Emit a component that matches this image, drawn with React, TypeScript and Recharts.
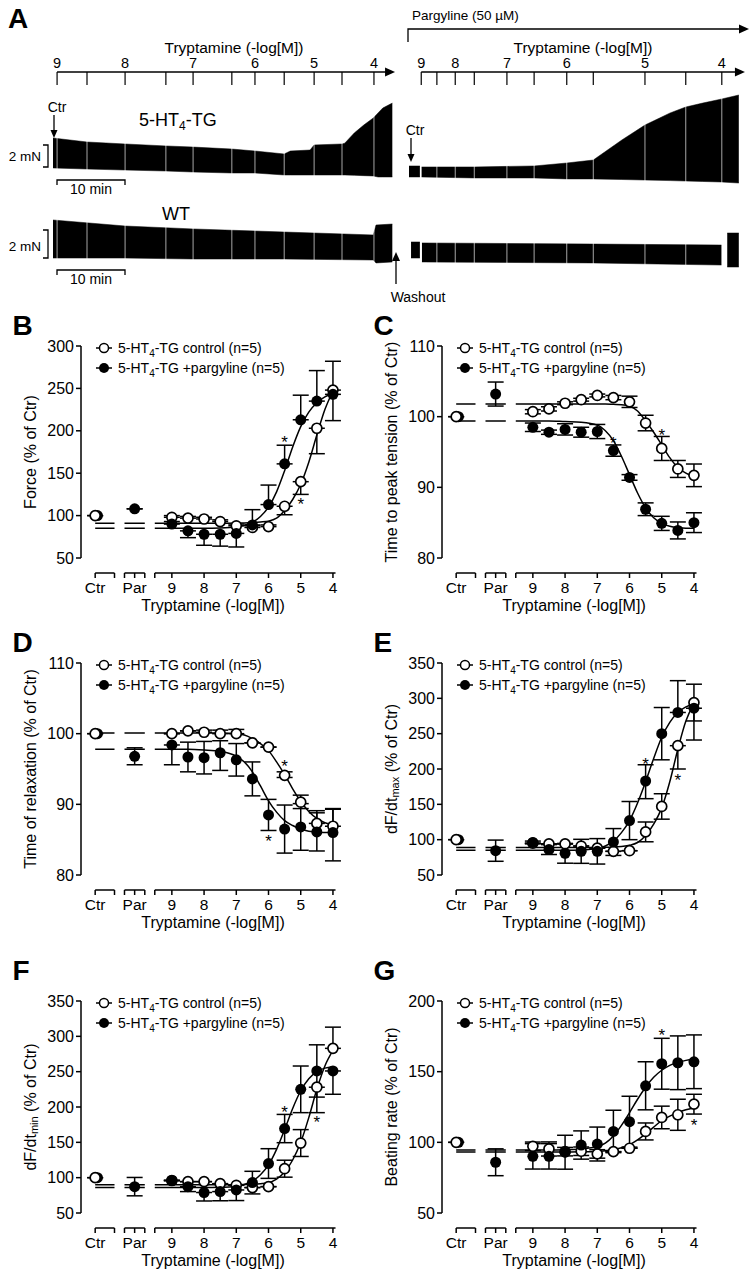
import React from 'react';
import { ComposedChart, Area, Line, Scatter, XAxis, YAxis, ErrorBar, ReferenceLine } from 'recharts';

const FONT = '"Liberation Sans", Arial, Helvetica, sans-serif';

// ---------- Panel A: original force recordings ----------
// -log[M] of each cumulative tryptamine addition
const addConc = [9, 8.5, 8, 7.5, 7, 6.5, 6, 5.5, 5, 4.5, 4];
// minute of each addition, control run and pargyline run
const addTimeCtl = [0.6, 5, 10.6, 16.6, 20.6, 26.3, 29.7, 34, 38.4, 42.5, 47.2];
const addTimePar = [1.8, 4.1, 6.8, 9.6, 14.4, 18.4, 23.2, 27.1, 34.7, 40.7, 46.0];

// trace envelopes (min, mN above plot floor)
const tgCtlT = [0, 5, 10.6, 16.6, 20.6, 26.3, 29.7, 34, 34.9, 37.8, 38.4, 42.5, 42.9, 44.3, 45.7, 47.1, 47.8, 48.5, 49.9];
const tgCtlHi = [4.27, 3.91, 3.73, 3.55, 3.45, 3.27, 3.09, 2.82, 3.09, 3.18, 3.64, 3.73, 3.8, 4.73, 5.45, 6.09, 6.55, 7.0, 7.45];
const tgCtlLo = [1.55, 1.45, 1.36, 1.27, 1.18, 1.09, 1.09, 0.91, 0.91, 0.91, 0.91, 0.91, 0.91, 0.88, 0.85, 0.82, 0.73, 0.73, 0.73];

const tgParT = [0, 1.6, 1.7, 1.8, 9.6, 18.4, 23.2, 27.1, 31.3, 34.7, 38.4, 40.7, 43.2, 46.0, 48.5];
const tgParHi = [1.73, 1.73, null, 1.64, 1.64, 1.73, 2.0, 2.27, 4.09, 5.45, 6.55, 7.09, 7.45, 7.82, 8.18];
const tgParLo = [0.73, 0.73, null, 0.73, 0.64, 0.64, 0.55, 0.55, 0.5, 0.45, 0.4, 0.36, 0.32, 0.27, 0.18];

const wtCtlT = [0, 10.6, 20.6, 34, 47.1, 47.5, 49.9];
const wtCtlHi = [3.93, 3.5, 3.29, 3.07, 2.86, 3.57, 3.64];
const wtCtlLo = [1.21, 1.21, 1.14, 1.14, 1.07, 0.86, 0.93];

const wtParT = [0.3, 1.6, 1.7, 1.9, 27.1, 46.0, 46.4, 46.8, 48.5];
const wtParHi = [2.36, 2.36, null, 2.29, 2.21, 2.14, null, 3.0, 3.0];
const wtParLo = [1.21, 1.21, null, 0.93, 0.86, 0.71, null, 0.57, 0.57];

// ---------- Panels B-G: concentration-response ----------
const conc = [9, 8.5, 8, 7.5, 7, 6.5, 6, 5.5, 5, 4.5, 4];
const CTR_X = 11.38;
const PAR_X = 10.155;
const doseTicks = [CTR_X, 10.78, 10.47, PAR_X, 9.84, 9.53, 9, 8, 7, 6, 5, 4];
const doseTickText = ['Ctr', '', '', 'Par', '', '', '9', '8', '7', '6', '5', '4'];
const fitX = [9.53, 9, 8.5, 8, 7.5, 7, 6.75, 6.5, 6.25, 6, 5.75, 5.5, 5.25, 5, 4.75, 4.5, 4.25, 4];

// pargyline-alone value (B..G) and its SEM
const parMean = [108, 103.2, 96.8, 84.4, 87.3, 85.9];
const parErr = [0, 1.7, 1.2, 15, 13, 9.5];

// B: force
const bCtlMean = [98, 97, 96, 93, 88, 86, 87, 111, 140, 203, 248];
const bCtlDown = [0, 0, 0, 0, 0, 0, 0, 10, 15, 30, 0];
const bCtlUp = [2, 2, 2, 2, 2, 2, 2, 0, 0, 0, 34];
const bPargMean = [90, 82, 78, 78, 79, 89, 113, 161, 213, 235, 243];
const bPargDown = [0, 8, 13, 14, 16, 0, 0, 0, 0, 0, 31];
const bPargUp = [3, 0, 0, 0, 0, 18, 23, 22, 29, 36, 0];
const bCtlFit = [91, 91, 91, 91, 91, 91.2, 91.4, 91.8, 92.5, 93.5, 97, 106, 119, 137, 163, 195, 225, 247];
const bPargFit = [85, 85, 85, 85, 85.3, 86.5, 88.5, 92, 99, 110, 128, 153, 181, 205, 222, 233, 240, 244];
const bStarX = [5.5, 5];
const bStarY = [191, 118];

// C: time to peak tension
const cCtlMean = [100.7, 101.1, 101.9, 102.4, 103.0, 102.7, 102.1, 99.1, 95.5, 92.6, 91.7];
const cCtlErr = [0.3, 0.3, 0.2, 0.2, 0.2, 0.3, 0.8, 1.1, 1.7, 1.2, 1.6];
const cPargMean = [98.5, 97.8, 98.2, 97.8, 97.9, 95.2, 91.4, 86.9, 84.9, 83.9, 85.0];
const cPargErr = [0.6, 0.3, 0.8, 0.7, 1.0, 0.8, 0.4, 0.9, 1.0, 1.2, 1.4];
const cCtlFit = [101.8, 101.8, 101.8, 101.8, 101.8, 101.8, 101.8, 101.75, 101.7, 101.5, 100.8, 99.4, 97.8, 96.0, 94.2, 92.8, 92.0, 91.5];
const cPargFit = [99.4, 99.4, 99.4, 99.3, 99.2, 98.8, 98.0, 96.6, 94.4, 91.8, 89.2, 87.1, 85.7, 84.9, 84.5, 84.3, 84.2, 84.2];
const cStarX = [6.5, 5];
const cStarY = [96.9, 98.0];

// D: time of relaxation
const dCtlMean = [100.0, 100.4, 100.2, 100.0, 100.0, 98.7, 98.1, 94.1, 90.3, 87.3, 86.9];
const dCtlDown = [0, 0, 0, 0, 0, 0, 0, 0.3, 0.9, 0, 0];
const dCtlUp = [0, 0, 0.3, 0.5, 0.6, 0, 0, 0.5, 1.0, 1.8, 2.4];
const dPargMean = [98.4, 96.7, 96.6, 97.3, 96.3, 93.6, 88.5, 86.5, 86.8, 86.1, 86.0];
const dPargDown = [2.8, 2.1, 2.3, 2.5, 2.3, 2.4, 2.2, 3.4, 3.3, 2.7, 4.0];
const dPargUp = [0, 2.1, 2.3, 1.7, 2.3, 2.4, 2.2, 3.4, 3.3, 2.7, 3.4];
const dCtlFit = [100.1, 100.1, 100.1, 100.1, 100.1, 100.0, 99.8, 99.3, 98.6, 97.6, 96.0, 94.2, 92.2, 90.4, 89.0, 88.0, 87.4, 87.1];
const dPargFit = [97.8, 97.8, 97.8, 97.7, 97.5, 96.8, 96.0, 94.6, 92.6, 90.5, 88.9, 87.7, 87.0, 86.5, 86.2, 86.1, 86.0, 86.0];
const dStarX = [5.5, 6];
const dStarY = [96.0, 85.4];

// E: dF/dt max
const eCtlMean = [95, 94, 94, 91, 88, 83.5, 84.4, 111, 147, 233, 294];
const eCtlDown = [0, 0, 0, 0, 0, 0, 0, 14, 18, 33, 26];
const eCtlUp = [0, 0, 0, 0, 0, 0, 0, 14, 18, 0, 26];
const ePargMean = [96, 86, 80.7, 83.5, 83.5, 96.7, 127, 183, 250, 280, 286];
const ePargDown = [2, 7, 14, 17, 18, 19, 27, 25, 37, 0, 45];
const ePargUp = [2, 7, 14, 17, 18, 19, 27, 23, 37, 45, 0];
const eCtlFit = [89, 89, 89, 89, 89, 89, 89.2, 89.6, 90.5, 92, 96, 106, 122, 145, 182, 228, 268, 292];
const ePargFit = [85, 85, 85, 85, 85.5, 87.5, 91, 98, 110, 127, 152, 182, 215, 245, 266, 280, 288, 292];
const eStarX = [5.5, 4.5];
const eStarY = [213, 190];

// F: dF/dt min
const fCtlMean = [96, 94.4, 94.4, 91.5, 89.2, 86, 87.3, 112.7, 149, 228, 283];
const fCtlDown = [0, 0, 0, 0, 0, 0, 0, 12, 19, 36, 0];
const fCtlUp = [0, 0, 0, 0, 0, 0, 0, 12, 19, 0, 30];
const fPargMean = [96, 87.3, 79, 80.3, 82.6, 93, 120, 169.5, 225, 251, 251];
const fPargDown = [0, 7, 12, 13, 15, 16, 21, 20, 33, 37, 33];
const fPargUp = [0, 0, 0, 0, 0, 16, 21, 20, 33, 37, 0];
const fCtlFit = [90, 90, 90, 90, 90, 90, 90.2, 90.6, 91.5, 93, 98, 108, 125, 150, 185, 225, 258, 280];
const fPargFit = [86, 86, 86, 86, 86.3, 88, 90.5, 95, 104, 118, 140, 168, 198, 223, 240, 250, 255, 257];
const fStarX = [5.5, 4.5];
const fStarY = [198, 184];

// G: beating rate
const gCtlMean = [97.2, 95.3, 93.4, 93.7, 91.8, 93.4, 95.8, 107.7, 117.6, 119.5, 127];
const gCtlErr = [3, 5, 3, 3, 3, 0, 0, 6, 8, 11, 7];
const gPargMean = [90.1, 90.1, 93.0, 98.1, 98.8, 107.7, 114.6, 140, 155.6, 156.3, 157];
const gPargErr = [9, 9, 12, 10, 12, 15, 18, 17, 18, 19, 19];
const gCtlFit = [93.2, 93.2, 93.2, 93.2, 93.3, 93.6, 94.1, 94.8, 96.2, 98.4, 101.8, 106, 110.8, 115.3, 118.5, 121, 123, 124.5];
const gPargFit = [94.6, 94.6, 94.6, 94.8, 95.3, 97, 99.5, 104.5, 112, 121, 130.5, 139, 146, 151, 154.5, 156.5, 158, 159];
const gStarX = [5, 4];
const gStarY = [179, 115];

// ---------- layout ----------
const PX_PER_MIN = 6.8;
const ROW_TOP = [346, 663, 1001];
const LETTER_OFF = [11, 11, 21];
const COL_X = [0, 361];
const AX_X = 81; // y-axis line inside a panel
const PLOT_W = 260;
const PLOT_H = 212;
const X_DOMAIN = [3.75, 11.82];
const AX_OFF = 15;

function ArrowLine(p: any) {
  const { x1, y1, x2, y2 } = p;
  return (
    <g>
      <line x1={x1} y1={y1} x2={x2 - 6} y2={y2} stroke="#000" strokeWidth={1.3} />
      <polygon points={`${x2},${y2} ${x2 - 10},${y2 - 4.5} ${x2 - 10},${y2 + 4.5}`} fill="#000" />
    </g>
  );
}

function TimelineTick(p: any) {
  const { x, y, index } = p;
  const c = addConc[index];
  const label = Number.isInteger(c) ? String(c) : '';
  return (
    <g>
      <line x1={x} y1={y} x2={x} y2={y + 13} stroke="#000" strokeWidth={1.2} />
      {label ? (
        <text x={x} y={y - 4} textAnchor="middle" fontSize={14.5} fontFamily={FONT} fill="#000">
          {label}
        </text>
      ) : null}
    </g>
  );
}

function TraceChart(props: any) {
  const { originX, span, plotTop, plotBottom, pxPerMn, t, hi, lo, adds, timeline, axisFrom, axisTo } = props;
  const data = t.map((tt: number, i: number) => ({ t: tt, band: hi[i] == null ? null : [lo[i], hi[i]] }));
  const yMax = (plotBottom - plotTop) / pxPerMn;
  const plotW = span * PX_PER_MIN;
  return (
    <div style={{ position: 'absolute', left: 0, top: 0 }}>
      <ComposedChart
        width={750}
        height={plotBottom + 4}
        data={data}
        margin={{ top: timeline ? plotTop - 24 : plotTop, right: 750 - originX - plotW, bottom: 4, left: originX }}
      >
        {timeline ? (
          <XAxis
            type="number"
            dataKey="t"
            domain={[0, span]}
            allowDataOverflow
            orientation="top"
            height={24}
            ticks={adds}
            interval={0}
            tickLine={false}
            axisLine={false}
            tickSize={0}
            tickMargin={0}
            tick={(p: any) => <TimelineTick {...p} />}
          />
        ) : (
          <XAxis type="number" dataKey="t" domain={[0, span]} allowDataOverflow hide />
        )}
        <YAxis type="number" domain={[0, yMax]} allowDataOverflow hide />
        <Area
          dataKey="band"
          type="linear"
          stroke="#000"
          strokeWidth={0.5}
          fill="#000"
          fillOpacity={1}
          connectNulls={false}
          dot={false}
          activeDot={false}
          isAnimationActive={false}
        />
        {adds.map((a: number) => (
          <ReferenceLine
            key={a}
            segment={[{ x: a, y: 0 }, { x: a, y: yMax * 0.85 }]}
            stroke="#fff"
            strokeOpacity={0.65}
            strokeWidth={1}
          />
        ))}
        {timeline ? (
          <ReferenceLine
            segment={[{ x: axisFrom, y: yMax }, { x: axisTo, y: yMax }]}
            ifOverflow="visible"
            shape={ArrowLine}
          />
        ) : null}
      </ComposedChart>
    </div>
  );
}

function PanelA() {
  const ln = { stroke: '#000', strokeWidth: 1.3, fill: 'none' };
  return (
    <svg width={750} height={310} style={{ position: 'absolute', left: 0, top: 0, overflow: 'visible' }} fontFamily={FONT} fill="#000">
      <text x={8} y={28} fontSize={28} fontWeight="bold">A</text>
      <text x={412} y={20} fontSize={13.5}>Pargyline (50 µM)</text>
      <path d="M408,42 L408,29 L740,29" {...ln} />
      <polygon points="749,29 739,24.5 739,33.5" />
      <text x={234} y={53} textAnchor="middle" fontSize={15.5}>Tryptamine (-log[M])</text>
      <text x={583} y={53} textAnchor="middle" fontSize={15.5}>Tryptamine (-log[M])</text>

      <text x={57} y={112} textAnchor="middle" fontSize={14}>Ctr</text>
      <line x1={54} y1={115} x2={54} y2={131} {...ln} />
      <polygon points="50.5,130 57.5,130 54,138" />
      <text x={139} y={126} fontSize={18}>
        5-HT<tspan fontSize={12} dy={4}>4</tspan>
        <tspan dy={-4}>-TG</tspan>
      </text>
      <text x={415} y={135} textAnchor="middle" fontSize={14}>Ctr</text>
      <line x1={411} y1={138} x2={411} y2={155} {...ln} />
      <polygon points="407.5,154 414.5,154 411,162" />

      <text x={41} y={161} textAnchor="end" fontSize={13.5}>2 mN</text>
      <path d="M43,145 H48 V167 H43" {...ln} />
      <path d="M57,185 V180 H125 V185" {...ln} />
      <text x={91} y={194} textAnchor="middle" fontSize={14}>10 min</text>

      <text x={176} y={220} textAnchor="middle" fontSize={18}>WT</text>
      <text x={41} y={251} textAnchor="end" fontSize={13.5}>2 mN</text>
      <path d="M43,230 H48 V258 H43" {...ln} />
      <path d="M57,275 V270 H125 V275" {...ln} />
      <text x={91} y={284} textAnchor="middle" fontSize={14}>10 min</text>

      <line x1={396} y1={284} x2={396} y2={260} {...ln} />
      <polygon points="392,261 400,261 396,252" />
      <text x={418} y={302} textAnchor="middle" fontSize={14}>Washout</text>
    </svg>
  );
}

function DoseTick(p: any) {
  const { x, y, index } = p;
  const label = doseTickText[index];
  return (
    <g>
      <line x1={x} y1={y + AX_OFF} x2={x} y2={y + AX_OFF + 5} stroke="#000" strokeWidth={1.5} />
      {label ? (
        <text x={x} y={y + AX_OFF + 19.5} textAnchor="middle" fontSize={15.5} fontFamily={FONT} fill="#000">
          {label}
        </text>
      ) : null}
    </g>
  );
}

function AxisSeg(p: any) {
  return <line x1={p.x1} y1={p.y1 + AX_OFF} x2={p.x2} y2={p.y2 + AX_OFF} stroke="#000" strokeWidth={1.5} />;
}

const openDot = (p: any) => <circle cx={p.cx} cy={p.cy} r={5} fill="#fff" stroke="#000" strokeWidth={1.7} />;
const filledDot = (p: any) => <circle cx={p.cx} cy={p.cy} r={5.5} fill="#000" />;
const starMark = (p: any) => (
  <text x={p.cx} y={p.cy + 10} textAnchor="middle" fontSize={17} fontFamily={FONT} fill="#000">*</text>
);

const axisSegments = [
  [CTR_X, 10.78],
  [10.47, 9.84],
  [9.53, 3.92],
];

const pts = (mean: number[], down: number[], up: number[]) =>
  conc.map((c, i) => ({ x: c, y: mean[i], e: [down[i], up[i]] }));
const fitPts = (f: number[]) => [
  { x: CTR_X, y: f[0] },
  { x: 10.78, y: f[0] },
  { x: 10.62, y: null },
  { x: 10.47, y: f[0] },
  { x: 9.84, y: f[0] },
  { x: 9.7, y: null },
  ...fitX.map((x, i) => ({ x, y: f[i] })),
];
const starPts = (xs: number[], ys: number[]) => xs.map((x, i) => ({ x, y: ys[i] }));

function HT4({ rest }: { rest: string }) {
  return (
    <>
      5-HT<tspan fontSize={10} dy={4}>4</tspan>
      <tspan dy={-4}>{rest}</tspan>
    </>
  );
}

function DosePanel(props: any) {
  const { letter, col, row, yLabel, yDomain, yTicks, ctl, parg, ctlFit, pargFit, stars, parIdx } = props;
  const T = 45;
  const ctlData = [{ x: CTR_X, y: 100, e: [0, 0] }, ...ctl];
  const pargData = [{ x: PAR_X, y: parMean[parIdx], e: [parErr[parIdx], parErr[parIdx]] }, ...parg];
  const ctrShadow = [{ x: CTR_X - 0.07, y: 100 }];
  const line = { stroke: '#000', strokeWidth: 1.5 };
  return (
    <div style={{ position: 'absolute', left: COL_X[col], top: ROW_TOP[row] - T, width: 375, height: 330 }}>
      <div style={{ position: 'absolute', left: 0, top: T - 20 }}>
        <ComposedChart width={375} height={20 + PLOT_H + 50} margin={{ top: 20, right: 375 - AX_X - PLOT_W, bottom: 0, left: 0 }}>
          <XAxis
            type="number"
            dataKey="x"
            domain={X_DOMAIN}
            reversed
            allowDataOverflow
            ticks={doseTicks}
            interval={0}
            height={50}
            tickLine={false}
            axisLine={false}
            tickSize={0}
            tickMargin={0}
            tick={(p: any) => <DoseTick {...p} />}
          />
          <YAxis
            type="number"
            dataKey="y"
            domain={yDomain}
            ticks={yTicks}
            allowDataOverflow
            interval={0}
            width={AX_X}
            tickSize={5}
            tickMargin={2}
            axisLine={{ stroke: '#000', strokeWidth: 1.5 }}
            tickLine={{ stroke: '#000', strokeWidth: 1.5 }}
            tick={{ fontSize: 16, fill: '#000', fontFamily: FONT }}
          />
          {axisSegments.map((s) => (
            <ReferenceLine
              key={s[0]}
              segment={[{ x: s[0], y: yDomain[0] }, { x: s[1], y: yDomain[0] }]}
              ifOverflow="visible"
              shape={AxisSeg}
            />
          ))}
          <Line data={fitPts(ctlFit)} dataKey="y" type="monotone" dot={false} activeDot={false} connectNulls={false} {...line} isAnimationActive={false} />
          <Line data={fitPts(pargFit)} dataKey="y" type="monotone" dot={false} activeDot={false} connectNulls={false} {...line} isAnimationActive={false} />
          <Scatter data={ctrShadow} dataKey="y" shape={filledDot} isAnimationActive={false} />
          <Scatter data={ctlData} dataKey="y" shape={openDot} isAnimationActive={false}>
            <ErrorBar dataKey="e" direction="y" width={8} stroke="#000" strokeWidth={1.5} />
          </Scatter>
          <Scatter data={pargData} dataKey="y" shape={filledDot} isAnimationActive={false}>
            <ErrorBar dataKey="e" direction="y" width={8} stroke="#000" strokeWidth={1.5} />
          </Scatter>
          <Scatter data={stars} dataKey="y" shape={starMark} isAnimationActive={false} />
        </ComposedChart>
      </div>
      <svg width={375} height={330} style={{ position: 'absolute', left: 0, top: 0, overflow: 'visible' }} fontFamily={FONT} fill="#000">
        <text x={12.5} y={T - LETTER_OFF[row]} fontSize={28} fontWeight="bold">{letter}</text>
        <line x1={AX_X + 15} y1={T + 2} x2={AX_X + 31} y2={T + 2} stroke="#000" strokeWidth={1.5} />
        <circle cx={AX_X + 23} cy={T + 2} r={4.5} fill="#fff" stroke="#000" strokeWidth={1.5} />
        <text x={AX_X + 37} y={T + 7} fontSize={14}>
          <HT4 rest="-TG control (n=5)" />
        </text>
        <line x1={AX_X + 15} y1={T + 22} x2={AX_X + 31} y2={T + 22} stroke="#000" strokeWidth={1.5} />
        <circle cx={AX_X + 23} cy={T + 22} r={5} fill="#000" />
        <text x={AX_X + 37} y={T + 27} fontSize={14}>
          <HT4 rest="-TG +pargyline (n=5)" />
        </text>
        <text
          transform={`translate(${AX_X - 51},${T + PLOT_H / 2}) rotate(-90)`}
          textAnchor="middle"
          dominantBaseline="central"
          fontSize={16}
        >
          {yLabel}
        </text>
        <text x={AX_X + 132} y={T + PLOT_H + 53} textAnchor="middle" fontSize={16}>
          Tryptamine (-log[M])
        </text>
      </svg>
    </div>
  );
}

const dfdt = (sub: string) => (
  <>
    dF/dt<tspan fontSize={11} dy={4}>{sub}</tspan>
    <tspan dy={-4}> (% of Ctr)</tspan>
  </>
);

const panels = [
  {
    letter: 'B', col: 0, row: 0, parIdx: 0, yLabel: 'Force (% of Ctr)',
    yDomain: [50, 300], yTicks: [50, 100, 150, 200, 250, 300],
    ctl: pts(bCtlMean, bCtlDown, bCtlUp), parg: pts(bPargMean, bPargDown, bPargUp),
    ctlFit: bCtlFit, pargFit: bPargFit, stars: starPts(bStarX, bStarY),
  },
  {
    letter: 'C', col: 1, row: 0, parIdx: 1, yLabel: 'Time to peak tension (% of Ctr)',
    yDomain: [80, 110], yTicks: [80, 90, 100, 110],
    ctl: pts(cCtlMean, cCtlErr, cCtlErr), parg: pts(cPargMean, cPargErr, cPargErr),
    ctlFit: cCtlFit, pargFit: cPargFit, stars: starPts(cStarX, cStarY),
  },
  {
    letter: 'D', col: 0, row: 1, parIdx: 2, yLabel: 'Time of relaxation (% of Ctr)',
    yDomain: [80, 110], yTicks: [80, 90, 100, 110],
    ctl: pts(dCtlMean, dCtlDown, dCtlUp), parg: pts(dPargMean, dPargDown, dPargUp),
    ctlFit: dCtlFit, pargFit: dPargFit, stars: starPts(dStarX, dStarY),
  },
  {
    letter: 'E', col: 1, row: 1, parIdx: 3, yLabel: dfdt('max'),
    yDomain: [50, 350], yTicks: [50, 100, 150, 200, 250, 300, 350],
    ctl: pts(eCtlMean, eCtlDown, eCtlUp), parg: pts(ePargMean, ePargDown, ePargUp),
    ctlFit: eCtlFit, pargFit: ePargFit, stars: starPts(eStarX, eStarY),
  },
  {
    letter: 'F', col: 0, row: 2, parIdx: 4, yLabel: dfdt('min'),
    yDomain: [50, 350], yTicks: [50, 100, 150, 200, 250, 300, 350],
    ctl: pts(fCtlMean, fCtlDown, fCtlUp), parg: pts(fPargMean, fPargDown, fPargUp),
    ctlFit: fCtlFit, pargFit: fPargFit, stars: starPts(fStarX, fStarY),
  },
  {
    letter: 'G', col: 1, row: 2, parIdx: 5, yLabel: 'Beating rate (% of Ctr)',
    yDomain: [50, 200], yTicks: [50, 100, 150, 200],
    ctl: pts(gCtlMean, gCtlErr, gCtlErr), parg: pts(gPargMean, gPargErr, gPargErr),
    ctlFit: gCtlFit, pargFit: gPargFit, stars: starPts(gStarX, gStarY),
  },
];

export default function App() {
  return (
    <div style={{ position: 'absolute', left: 0, top: 0, width: 750, height: 1272, background: '#fff', fontFamily: FONT, overflow: 'hidden' }}>
      <TraceChart originX={53} span={50.4} plotTop={72} plotBottom={185} pxPerMn={11}
        t={tgCtlT} hi={tgCtlHi} lo={tgCtlLo} adds={addTimeCtl} timeline axisFrom={0.6} axisTo={50.3} />
      <TraceChart originX={409} span={49.5} plotTop={72} plotBottom={185} pxPerMn={11}
        t={tgParT} hi={tgParHi} lo={tgParLo} adds={addTimePar} timeline axisFrom={1.8} axisTo={49.4} />
      <TraceChart originX={53} span={50.4} plotTop={200} plotBottom={275} pxPerMn={14}
        t={wtCtlT} hi={wtCtlHi} lo={wtCtlLo} adds={addTimeCtl} timeline={false} />
      <TraceChart originX={409} span={49.5} plotTop={200} plotBottom={275} pxPerMn={14}
        t={wtParT} hi={wtParHi} lo={wtParLo} adds={addTimePar} timeline={false} />
      <PanelA />
      {panels.map((p) => (
        <DosePanel key={p.letter} {...p} />
      ))}
    </div>
  );
}
